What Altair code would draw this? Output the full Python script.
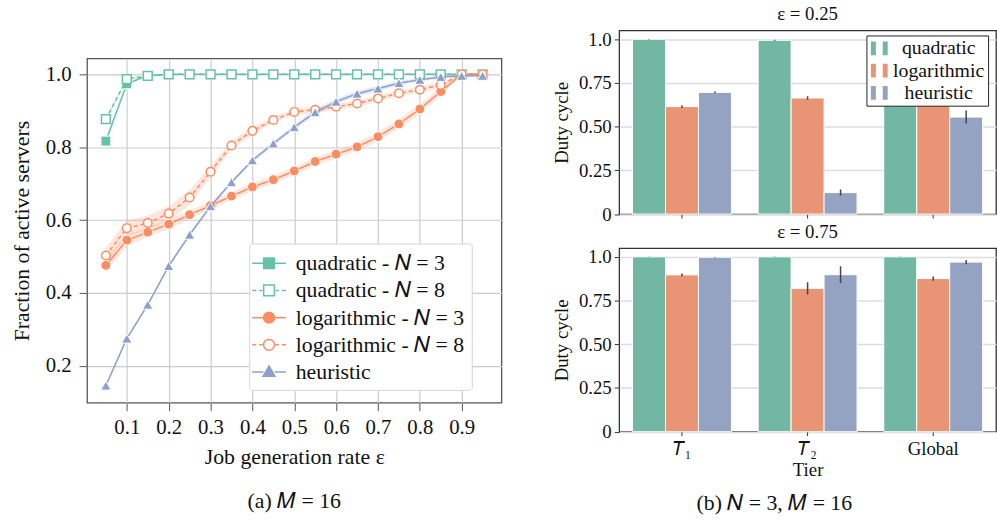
import altair as alt
import pandas as pd

FONT = "Liberation Serif"

# ---------------- (a) line chart data ----------------
rates = [0.05, 0.10, 0.15, 0.20, 0.25, 0.30, 0.35, 0.40, 0.45, 0.50,
         0.55, 0.60, 0.65, 0.70, 0.75, 0.80, 0.85, 0.90, 0.95]
quad_n3 = [0.817, 0.974, 0.997, 1.0, 1.0, 1.0, 1.0, 1.0, 1.0, 1.0,
           1.0, 1.0, 1.0, 1.0, 1.0, 1.0, 1.0, 1.0, 1.0]
quad_n8 = [0.877, 0.987, 0.996, 1.0, 1.0, 1.0, 1.0, 1.0, 1.0, 1.0,
           1.0, 1.0, 1.0, 1.0, 1.0, 1.0, 1.0, 1.0, 1.0]
log_n3 = [0.476, 0.545, 0.567, 0.589, 0.615, 0.640, 0.666, 0.691, 0.711, 0.735,
          0.761, 0.781, 0.801, 0.829, 0.864, 0.905, 0.953, 1.0, 1.0]
log_n8 = [0.503, 0.578, 0.592, 0.618, 0.662, 0.733, 0.805, 0.845, 0.875, 0.897,
          0.903, 0.911, 0.920, 0.934, 0.948, 0.958, 0.971, 1.0, 1.0]
heur = [0.146, 0.275, 0.368, 0.474, 0.560, 0.638, 0.704, 0.764, 0.810, 0.855,
        0.896, 0.925, 0.947, 0.961, 0.976, 0.985, 0.993, 0.996, 0.996]
# confidence-band half widths (read from the shaded regions)
quad_n3_ci = [0.008, 0.004, 0.002, 0.0, 0.0, 0.0, 0.0, 0.0, 0.0, 0.0,
              0.0, 0.0, 0.0, 0.0, 0.0, 0.0, 0.0, 0.0, 0.0]
quad_n8_ci = [0.008, 0.004, 0.002, 0.0, 0.0, 0.0, 0.0, 0.0, 0.0, 0.0,
              0.0, 0.0, 0.0, 0.0, 0.0, 0.0, 0.0, 0.0, 0.0]
log_n3_ci = [0.020, 0.016, 0.013, 0.013, 0.012, 0.011, 0.011, 0.011, 0.011, 0.011,
             0.011, 0.011, 0.012, 0.012, 0.013, 0.013, 0.012, 0.003, 0.002]
log_n8_ci = [0.022, 0.022, 0.020, 0.020, 0.020, 0.016, 0.012, 0.010, 0.008, 0.008,
             0.008, 0.008, 0.008, 0.008, 0.008, 0.008, 0.008, 0.003, 0.002]
heur_ci = [0.003, 0.004, 0.004, 0.005, 0.005, 0.005, 0.005, 0.006, 0.006, 0.007,
           0.008, 0.008, 0.008, 0.007, 0.006, 0.005, 0.004, 0.003, 0.003]

series_names = ["quadratic - 𝑁 = 3", "quadratic - 𝑁 = 8",
                "logarithmic - 𝑁 = 3", "logarithmic - 𝑁 = 8", "heuristic"]
series_values = [quad_n3, quad_n8, log_n3, log_n8, heur]
series_ci = [quad_n3_ci, quad_n8_ci, log_n3_ci, log_n8_ci, heur_ci]

# styles
GREEN, ORANGE, BLUE = "#66c2a5", "#fc8d62", "#8da0cb"
series_color = [GREEN, GREEN, ORANGE, ORANGE, BLUE]
series_dash = [[1, 0], [4, 3], [1, 0], [4, 3], [1, 0]]
series_shape = ["square", "square", "circle", "circle", "triangle-up"]
series_hollow = [False, True, False, True, False]
series_size = [100, 80, 100, 75, 110]

rows = []
for name, vals, cis in zip(series_names, series_values, series_ci):
    for r, v, c in zip(rates, vals, cis):
        rows.append({"series": name, "rate": r, "value": v, "lo": v - c, "hi": v + c})
line_df = pd.DataFrame(rows)

# ---------------- (b) bar chart data ----------------
tiers = ["𝑇₁", "𝑇₂", "Global"]
strategies = ["quadratic", "logarithmic", "heuristic"]
duty_025 = {"quadratic": [1.000, 0.994, 0.997],
            "logarithmic": [0.615, 0.664, 0.628],
            "heuristic": [0.696, 0.123, 0.555]}
err_025 = {"quadratic": [0.001, 0.003, 0.002],
           "logarithmic": [0.008, 0.010, 0.006],
           "heuristic": [0.005, 0.018, 0.037]}
duty_075 = {"quadratic": [1.000, 1.000, 1.000],
            "logarithmic": [0.897, 0.820, 0.876],
            "heuristic": [0.998, 0.898, 0.970]}
err_075 = {"quadratic": [0.001, 0.001, 0.001],
           "logarithmic": [0.008, 0.035, 0.012],
           "heuristic": [0.001, 0.048, 0.012]}
bar_colors = ["#71b7a1", "#e99575", "#95a3c3"]


def bar_frame(duty, err):
    out = []
    for s in strategies:
        for t, d, e in zip(tiers, duty[s], err[s]):
            out.append({"tier": t, "strategy": s, "duty": d, "lo": d - e, "hi": d + e})
    return pd.DataFrame(out)


# ---------------- (a) chart ----------------
def X(field="rate"):
    return alt.X(f"{field}:Q",
                 scale=alt.Scale(domain=[0.005, 0.995], nice=False, zero=False),
                 axis=alt.Axis(values=[0.1, 0.2, 0.3, 0.4, 0.5, 0.6, 0.7, 0.8, 0.9],
                               format=".1f", title="Job generation rate ε",
                               grid=True, gridColor="#cccccc", gridWidth=1.2,
                               domain=False, tickSize=8, tickColor="#555555",
                               labelFontSize=21, titleFontSize=22, labelPadding=6,
                               titlePadding=9, labelColor="#111", titleColor="#111",
                               titleFontWeight="normal", labelFont=FONT, titleFont=FONT))


def Y(field="value"):
    return alt.Y(f"{field}:Q",
                 scale=alt.Scale(domain=[0.099, 1.0435], nice=False, zero=False),
                 axis=alt.Axis(values=[0.2, 0.4, 0.6, 0.8, 1.0], format=".1f",
                               title="Fraction of active servers",
                               grid=True, gridColor="#cccccc", gridWidth=1.2,
                               domain=False, tickSize=8, tickColor="#555555",
                               labelFontSize=21, titleFontSize=22, labelPadding=8,
                               titlePadding=12, labelColor="#111", titleColor="#111",
                               titleFontWeight="normal", labelFont=FONT, titleFont=FONT))


base = alt.Chart(line_df)
layers = []
for name, col in zip(series_names, series_color):
    layers.append(base.transform_filter(alt.datum.series == name)
                  .mark_area(color=col, opacity=0.22)
                  .encode(x=X(), y=Y("lo"), y2="hi:Q"))
for name, col, dash, shp, hollow, sz in zip(series_names, series_color, series_dash,
                                            series_shape, series_hollow, series_size):
    sub = base.transform_filter(alt.datum.series == name)
    layers.append(sub.mark_line(color=col, strokeWidth=1.5, strokeDash=dash)
                  .encode(x=X(), y=Y()))
    if hollow:
        pm = sub.mark_point(shape=shp, size=sz, filled=True, fill="white",
                            stroke=col, strokeWidth=1.5, opacity=1)
    else:
        pm = sub.mark_point(shape=shp, size=sz, filled=True, fill=col,
                            stroke="white", strokeWidth=1, opacity=1)
    layers.append(pm.encode(x=X(), y=Y()))

# legend symbols: line + marker drawn as custom symbol paths
SOLID = "M-1.42,0H-0.47M0.47,0H1.42"
DASH = "M-1.42,0H-1.08M-0.83,0H-0.55M0.55,0H0.83M1.08,0H1.42"
SQ = "M-0.45,-0.45H0.45V0.45H-0.45Z"
CI = "M-0.46,0A0.46,0.46,0,1,0,0.46,0A0.46,0.46,0,1,0,-0.46,0Z"
TR = "M0,-0.52L0.5,0.36L-0.5,0.36Z"
legend_paths = [SOLID + SQ, DASH + SQ, SOLID + CI, DASH + CI, SOLID + TR]
legend_fills = [GREEN, "white", ORANGE, "white", BLUE]
leg_a = alt.Legend(title=None, orient="none", legendX=164, legendY=187,
                   fillColor="white", strokeColor="#d5d5d5", cornerRadius=3,
                   padding=7, labelFont=FONT, labelFontSize=22, labelColor="#111",
                   symbolSize=576, symbolStrokeWidth=1.5, symbolOpacity=1,
                   rowPadding=3.5, labelOffset=14, labelLimit=400)
legend_layer = (base.transform_filter("false")
                .mark_point(filled=True, opacity=1)
                .encode(x=X(), y=Y(),
                        shape=alt.Shape("series:N", scale=alt.Scale(domain=series_names, range=legend_paths), legend=leg_a),
                        fill=alt.Fill("series:N", scale=alt.Scale(domain=series_names, range=legend_fills), legend=leg_a),
                        stroke=alt.Stroke("series:N", scale=alt.Scale(domain=series_names, range=series_color), legend=leg_a)))
layers.append(legend_layer)

left_chart = alt.layer(*layers).properties(
    width=419, height=348,
    view=alt.ViewBackground(stroke="#555555", strokeWidth=1.3),
    title=alt.TitleParams("(a)  𝑀 = 16", orient="bottom", fontSize=22, font=FONT,
                          fontWeight="normal", offset=24, anchor="middle", color="#111"),
)

spacer = alt.Chart(pd.DataFrame({"v": [0]})).mark_point(opacity=0).encode(
    x=alt.value(0), y=alt.value(0)).properties(width=419, height=1)

left_col = alt.vconcat(spacer, left_chart, spacing=27.3, bounds="flush").resolve_scale(
    color="independent", fill="independent", stroke="independent", shape="independent")

# ---------------- (b) chart ----------------
BAR_PATH = "M-1,-0.82H-0.41V0.82H-1ZM0.41,-0.82H1V0.82H0.41Z"


def panel(title, df_p, bottom):
    yaxis = alt.Axis(values=[0, 0.25, 0.5, 0.75, 1.0],
                     labelExpr="datum.value == 0 ? '0' : (datum.value == 1 ? '1.0' : format(datum.value, '.2f'))",
                     title="Duty cycle", grid=True, gridColor="#dddddd", gridWidth=1.5,
                     domain=False, tickSize=5, tickColor="#333333", labelFontSize=19,
                     titleFontSize=19, labelPadding=3, titlePadding=7, labelColor="#111",
                     titleColor="#111", titleFontWeight="normal", labelFont=FONT, titleFont=FONT)
    if bottom:
        xaxis = alt.Axis(title="Tier", labelAngle=0, domain=False, tickSize=4,
                         tickColor="#333333", labelFontSize=19, titleFontSize=19,
                         labelPadding=4, titlePadding=2, labelColor="#111", titleColor="#111",
                         titleFontWeight="normal", labelFont=FONT, titleFont=FONT)
        leg = None
    else:
        xaxis = alt.Axis(title=None, labels=False, domain=False, tickSize=4,
                         tickColor="#333333")
        leg = alt.Legend(title=None, orient="none", legendX=250, legendY=5,
                         fillColor="white", strokeColor="#222222", cornerRadius=0,
                         padding=3, labelFont=FONT, labelFontSize=20, labelColor="#111",
                         labelAlign="center", labelOffset=50, symbolType=BAR_PATH,
                         symbolSize=289, symbolStrokeWidth=0, symbolOpacity=1,
                         rowPadding=2.5, labelLimit=300)
    xenc = alt.X("tier:N", sort=tiers,
                 scale=alt.Scale(paddingInner=0.2126, paddingOuter=0.1063), axis=xaxis)
    xoff = alt.XOffset("strategy:N", sort=strategies,
                       scale=alt.Scale(paddingInner=0, paddingOuter=0))
    yscale = alt.Scale(domain=[0, 1.05], nice=False)
    bars = alt.Chart(df_p).mark_bar(stroke="white", strokeWidth=1, opacity=1).encode(
        x=xenc, xOffset=xoff,
        y=alt.Y("duty:Q", scale=yscale, axis=yaxis),
        color=alt.Color("strategy:N", sort=strategies,
                        scale=alt.Scale(domain=strategies, range=bar_colors), legend=leg),
    )
    errs = alt.Chart(df_p).mark_rule(color="#444444", strokeWidth=1.5).encode(
        x=xenc, xOffset=xoff,
        y=alt.Y("lo:Q", scale=yscale, axis=yaxis), y2="hi:Q",
    )
    return alt.layer(bars, errs).properties(
        width=381, height=185.6,
        view=alt.ViewBackground(stroke="#333333", strokeWidth=1.3),
        title=alt.TitleParams(title, fontSize=19, font=FONT, fontWeight="normal",
                              offset=6, anchor="middle", color="#111"),
    )


top = panel("ε = 0.25", bar_frame(duty_025, err_025), False)
bottom = panel("ε = 0.75", bar_frame(duty_075, err_075), True)

right_col = alt.vconcat(
    top, bottom, spacing=34, bounds="flush",
    title=alt.TitleParams("(b)  𝑁 = 3, 𝑀 = 16", orient="bottom", fontSize=22, font=FONT,
                          fontWeight="normal", offset=14, anchor="middle", color="#111"),
).resolve_scale(color="independent")

chart = (alt.hconcat(left_col, right_col, spacing=50, bounds="full")
         .resolve_scale(color="independent", fill="independent",
                        stroke="independent", shape="independent")
         .properties(padding={"left": 10, "top": 2, "right": 0, "bottom": 0})
         .configure(font=FONT)
         .configure_view(stroke="transparent"))

chart.save("out.html", embed_options={"renderer": "svg", "actions": False})
